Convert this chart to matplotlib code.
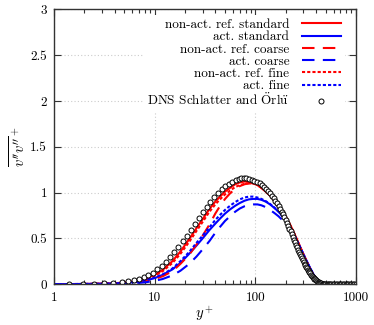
import numpy as np
import matplotlib
matplotlib.use("Agg")
import matplotlib.pyplot as plt
from matplotlib.ticker import FixedLocator, FixedFormatter, LogLocator, NullFormatter

plt.rcParams['font.family'] = ['cmr10', 'DejaVu Serif']
plt.rcParams['mathtext.fontset'] = 'cm'
plt.rcParams['axes.formatter.use_mathtext'] = True

# wall distance for the model profiles
yp = [1, 1.5, 2, 3, 4, 5, 6, 7, 8, 10, 12, 15, 18, 22, 26, 30, 35, 40, 45, 50,
      56, 63, 70, 78, 86, 95, 105, 115, 127, 140, 155, 170, 185, 200, 220, 240,
      260, 280, 300, 325, 350, 375, 400, 430, 460, 500, 600, 700, 850, 1000]

nonact_standard = [0, 0, 0.001, 0.004, 0.009, 0.017, 0.028, 0.042, 0.058, 0.10,
                   0.155, 0.25, 0.355, 0.49, 0.61, 0.71, 0.82, 0.90, 0.96, 1.01,
                   1.05, 1.09, 1.11, 1.12, 1.115, 1.10, 1.08, 1.05, 1.01, 0.965,
                   0.91, 0.85, 0.795, 0.74, 0.655, 0.57, 0.48, 0.40, 0.325, 0.24,
                   0.165, 0.105, 0.06, 0.028, 0.01, 0.002, 0, 0, 0, 0]
act_standard = [0, 0, 0.001, 0.003, 0.007, 0.012, 0.019, 0.027, 0.036, 0.065,
                0.10, 0.16, 0.23, 0.33, 0.42, 0.50, 0.59, 0.66, 0.72, 0.77,
                0.815, 0.855, 0.885, 0.91, 0.925, 0.93, 0.93, 0.92, 0.90, 0.87,
                0.83, 0.79, 0.745, 0.70, 0.625, 0.55, 0.47, 0.395, 0.325, 0.245,
                0.17, 0.11, 0.065, 0.032, 0.012, 0.003, 0, 0, 0, 0]
nonact_coarse = [0, 0, 0, 0.002, 0.005, 0.01, 0.016, 0.024, 0.033, 0.055,
                 0.085, 0.14, 0.22, 0.32, 0.43, 0.53, 0.65, 0.77, 0.86, 0.93,
                 0.99, 1.04, 1.07, 1.09, 1.10, 1.095, 1.08, 1.05, 1.01, 0.96,
                 0.90, 0.835, 0.775, 0.715, 0.635, 0.555, 0.475, 0.395, 0.325, 0.24,
                 0.165, 0.105, 0.06, 0.028, 0.01, 0.002, 0, 0, 0, 0]
act_coarse = [0, 0, 0, 0.001, 0.003, 0.005, 0.009, 0.013, 0.018, 0.035,
              0.055, 0.095, 0.145, 0.22, 0.30, 0.38, 0.47, 0.56, 0.63, 0.69,
              0.74, 0.79, 0.825, 0.85, 0.865, 0.87, 0.87, 0.86, 0.84, 0.81,
              0.775, 0.74, 0.70, 0.66, 0.60, 0.53, 0.46, 0.39, 0.32, 0.245,
              0.175, 0.115, 0.07, 0.035, 0.013, 0.003, 0, 0, 0, 0]
nonact_fine = [0, 0, 0.001, 0.004, 0.008, 0.015, 0.025, 0.038, 0.053, 0.09,
               0.14, 0.23, 0.33, 0.46, 0.58, 0.68, 0.79, 0.87, 0.93, 0.98,
               1.02, 1.06, 1.08, 1.095, 1.10, 1.10, 1.085, 1.06, 1.02, 0.97,
               0.91, 0.85, 0.79, 0.735, 0.65, 0.565, 0.48, 0.40, 0.325, 0.24,
               0.165, 0.105, 0.06, 0.028, 0.01, 0.002, 0, 0, 0, 0]
act_fine = [0, 0, 0.001, 0.003, 0.007, 0.013, 0.02, 0.029, 0.039, 0.07,
            0.105, 0.17, 0.25, 0.35, 0.45, 0.53, 0.62, 0.70, 0.76, 0.81,
            0.855, 0.895, 0.925, 0.945, 0.955, 0.955, 0.945, 0.93, 0.905, 0.875,
            0.835, 0.79, 0.745, 0.70, 0.625, 0.55, 0.47, 0.395, 0.325, 0.245,
            0.17, 0.11, 0.065, 0.032, 0.012, 0.003, 0, 0, 0, 0]

# DNS Schlatter & Orlu
dns_y = [1.42, 1.93, 2.52, 3.17, 3.89, 4.71, 5.48, 6.25, 7.06, 7.87, 8.68, 9.6,
         10.6, 11.7, 12.9, 14.2, 15.6, 17.2, 18.9, 20.8, 22.8, 25.0, 27.4, 30.0,
         32.8, 35.8, 39.0, 42.5, 46.2, 50.2, 54.5, 59.0, 63.5, 68.0, 72.5, 77.0,
         80, 86, 92, 98, 104, 110, 116, 122, 128, 134, 140, 146, 152, 158, 164,
         170, 176, 182, 188, 194, 200, 206, 212, 218, 224, 230, 236, 242, 248,
         254, 260, 266, 272, 278, 284, 290, 296, 302, 308, 314, 320, 326, 332,
         338, 344, 350, 357, 364, 371, 378, 385, 392, 400, 408, 416, 424, 432,
         440, 449, 458, 467, 476, 486, 496, 510, 525, 540, 555, 570, 590, 610,
         630, 650, 670, 690, 715, 740, 765, 790, 815, 840, 870, 900, 930, 960, 990]
dns_v = [0.0, 0.002, 0.004, 0.007, 0.012, 0.019, 0.028, 0.039, 0.055, 0.075, 0.098, 0.125,
         0.16, 0.20, 0.245, 0.295, 0.35, 0.41, 0.47, 0.53, 0.59, 0.655, 0.72, 0.785,
         0.845, 0.90, 0.95, 0.995, 1.035, 1.07, 1.095, 1.12, 1.137, 1.148, 1.155, 1.157,
         1.156, 1.150, 1.142, 1.130, 1.116, 1.100, 1.082, 1.062, 1.040, 1.017, 0.992,
         0.966, 0.939, 0.911, 0.882, 0.852, 0.822, 0.791, 0.760, 0.729, 0.698, 0.667,
         0.636, 0.605, 0.575, 0.545, 0.515, 0.486, 0.458, 0.430, 0.403, 0.377, 0.352,
         0.328, 0.305, 0.283, 0.262, 0.242, 0.223, 0.205, 0.188, 0.172, 0.157, 0.143,
         0.130, 0.117, 0.104, 0.092, 0.080, 0.069, 0.059, 0.050, 0.041, 0.033, 0.026,
         0.020, 0.015, 0.011, 0.008, 0.006, 0.004, 0.003, 0.002, 0.001, 0.0, 0.0, 0.0,
         0.0, 0.0, 0.0, 0.0, 0.0, 0.0, 0.0, 0.0, 0.0, 0.0, 0.0, 0.0, 0.0, 0.0, 0.0,
         0.0, 0.0, 0.0, 0.0]

fig = plt.figure(figsize=(3.74, 3.25), dpi=100)
ax = fig.add_axes([0.1444, 0.126, 0.8076, 0.845])

lw = 1.5
ax.plot(yp, nonact_standard, color='#ff0000', lw=lw, label='non-act. ref. standard')
ax.plot(yp, act_standard, color='#0000ff', lw=lw, label='act. standard')
ax.plot(yp, nonact_coarse, color='#ff0000', lw=lw, dashes=(6, 4), label='non-act. ref. coarse')
ax.plot(yp, act_coarse, color='#0000ff', lw=lw, dashes=(6, 4), label='act. coarse')
ax.plot(yp, nonact_fine, color='#ff0000', lw=lw, dashes=(1.5, 1), label='non-act. ref. fine')
ax.plot(yp, act_fine, color='#0000ff', lw=lw, dashes=(1.5, 1), label='act. fine')
ax.plot(dns_y, dns_v, ls='none', marker='o', ms=3.6, mfc='white', mec='black', mew=0.7,
        label=r'DNS Schlatter and $\mathrm{\ddot{O}rl\ddot{u}}$')

ax.set_xscale('log')
ax.set_xlim(1, 1000)
ax.set_ylim(0, 3)
ax.xaxis.set_major_locator(FixedLocator([1, 10, 100, 1000]))
ax.xaxis.set_major_formatter(FixedFormatter(['1', '10', '100', '1000']))
ax.xaxis.set_minor_locator(LogLocator(base=10, subs=np.arange(2, 10)))
ax.xaxis.set_minor_formatter(NullFormatter())
ax.yaxis.set_major_locator(FixedLocator([0, 0.5, 1, 1.5, 2, 2.5, 3]))
ax.yaxis.set_major_formatter(FixedFormatter(['0', '0.5', '1', '1.5', '2', '2.5', '3']))
ax.tick_params(which='both', direction='in', top=True, right=True, labelsize=9.5,
               color='#333333', width=0.8)
ax.tick_params(which='major', length=5)
ax.tick_params(axis='x', which='major', pad=6)
ax.tick_params(axis='y', which='major', pad=5)
ax.tick_params(which='minor', length=3)
for s in ax.spines.values():
    s.set_linewidth(1.0)
    s.set_color('#333333')
ax.grid(True, which='major', color='#cccccc', lw=0.8, ls=(0, (1, 2)))
ax.set_axisbelow(True)

ax.set_xlabel(r'$y^+$', fontsize=10.5, labelpad=0)
ax.set_ylabel(r'$\overline{v^{\prime\prime}v^{\prime\prime}}^+$', fontsize=10.5, labelpad=1)

leg = ax.legend(loc='upper right', bbox_to_anchor=(0.962, 0.98), fontsize=9.5,
                markerfirst=False, frameon=True, fancybox=False, framealpha=1,
                edgecolor='none', facecolor='white', borderpad=0.3, borderaxespad=0,
                handlelength=2.9, handletextpad=1.0, labelspacing=0.0)

fig.savefig('out.png', dpi=100)
